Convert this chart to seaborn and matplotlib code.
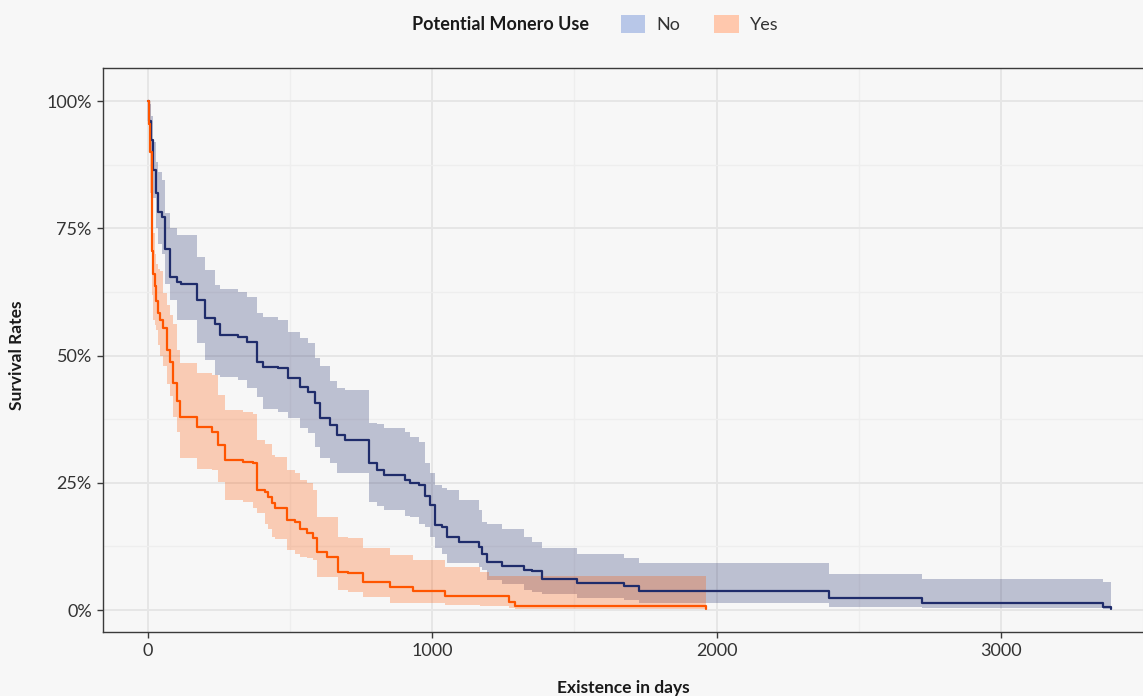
import pandas as pd
import matplotlib
matplotlib.use("Agg")
import matplotlib.pyplot as plt
import matplotlib.patches as mpatches
from matplotlib.ticker import PercentFormatter, MultipleLocator
import seaborn as sns

# Kaplan-Meier estimates (days, survival %, 95% CI bounds)
no_days = [0, 5, 12, 19, 30, 36, 48, 60, 77, 101, 118, 171, 201, 236, 254, 318, 347,
           383, 406, 459, 494, 535, 564, 588, 606, 641, 665, 694, 776, 805, 829, 905,
           922, 952, 975, 993, 1011, 1034, 1052, 1093, 1163, 1175, 1192, 1245, 1321,
           1351, 1386, 1509, 1674, 1727, 2396, 2724, 3358, 3387]
no_surv = [100, 96, 92.3, 86.4, 82, 78.3, 77.3, 71, 65.5, 64.5, 64, 60.9, 57.3, 56.3,
           54, 53.7, 52.7, 48.8, 47.8, 47.5, 45.5, 43.9, 42.9, 40.6, 37.7, 36.3, 34.4,
           33.4, 28.8, 27.5, 26.5, 25.5, 24.9, 24.6, 22.5, 20.6, 16.7, 16.4, 14.3, 13.4,
           12.4, 11.1, 9.5, 8.6, 7.9, 7.7, 6.2, 5.4, 4.7, 3.8, 2.3, 1.4, 0.65, 0.2]
no_upper = [100, 99.5, 97, 92, 88, 86, 84.5, 78, 75, 73.7, 73.7, 69.4, 66.8, 63.9, 63,
            62.5, 61.6, 58.3, 57.6, 57, 54.7, 53.5, 52.4, 49.5, 48, 45, 43.6, 43.2, 36.7,
            36.5, 35.7, 35, 34, 33.1, 28.8, 26.9, 24.6, 24, 23.6, 21.6, 19.6, 17.3, 17,
            16, 14.4, 13.4, 12.1, 11.1, 10.2, 9.2, 7.1, 6.1, 5.6, 5.6]
no_lower = [100, 93, 88, 81, 75, 72, 70, 64, 60.9, 57, 57, 52.4, 49.1, 46.2, 45.8, 45.2,
            43.6, 41.9, 39.6, 39, 37.7, 35.7, 34.7, 32.1, 29.8, 28.8, 26.9, 26.9, 21.3,
            20.5, 19.6, 18.5, 18.3, 17, 16.4, 14.4, 12.1, 11, 9.2, 9.2, 8.5, 7.9, 5.9,
            5.2, 3.9, 3.5, 3.1, 2.3, 2.0, 1.4, 0.65, 0.5, 0.3, 0.3]

yes_days = [0, 3, 6, 13, 15, 19, 25, 30, 36, 42, 54, 66, 77, 89, 101, 113, 171, 224,
            248, 271, 336, 371, 383, 412, 424, 435, 447, 488, 518, 535, 559, 582, 594,
            629, 670, 705, 758, 852, 934, 1046, 1169, 1198, 1269, 1292, 1961]
yes_surv = [100, 95.5, 90, 82.5, 70.5, 66, 63.7, 60.7, 58.4, 56.9, 55.4, 51, 48.7, 44.7,
            41, 38, 36, 35, 32.4, 29.5, 29.1, 28.8, 23.6, 23.2, 22.3, 21, 20, 17.7, 17.3,
            16, 15.1, 14.1, 11.5, 10.5, 7.5, 7.2, 5.6, 4.6, 3.7, 2.75, 2.75, 2.75, 1.6,
            0.8, 0.2]
yes_upper = [100, 99.5, 96, 90, 80, 74, 70, 68, 67, 66.7, 62.2, 60, 58, 56.3, 51.1, 48.5,
             46.5, 46.2, 42.2, 39.3, 39, 38.6, 33.4, 32.7, 32.7, 30.5, 30, 27.5, 26.9,
             25.5, 24.9, 23.6, 18.3, 18.3, 14.4, 14.2, 12.1, 10.8, 9.8, 8.5, 7.5, 6.6,
             6.6, 6.6, 6.6]
yes_lower = [100, 90, 82, 72, 62, 57, 56, 55, 52, 50, 47.9, 44.5, 42, 38, 35, 29.8, 27.8,
             27.5, 25.2, 21.6, 21.3, 20, 19, 17, 16, 14.4, 14, 11.8, 11, 10.5, 10.2, 9.8,
             6.5, 6.5, 3.9, 3.5, 2.6, 1.3, 1.3, 1.0, 0.9, 0.8, 0.5, 0.2, 0.1]

groups = ["No", "Yes"]
line_colors = {"No": "#1f2c6b", "Yes": "#ff5500"}
legend_colors = {"No": "#b8c7e8", "Yes": "#ffc8ad"}

km = pd.concat([
    pd.DataFrame({"days": no_days, "surv": no_surv, "lower": no_lower,
                  "upper": no_upper, "group": "No"}),
    pd.DataFrame({"days": yes_days, "surv": yes_surv, "lower": yes_lower,
                  "upper": yes_upper, "group": "Yes"}),
], ignore_index=True)

sns.set_theme(style="whitegrid")
plt.rcParams["font.family"] = ["Lato", "DejaVu Sans"]

fig = plt.figure(figsize=(11.43, 6.96), dpi=100, facecolor="#f7f7f7")
ax = fig.add_axes([0.0901, 0.092, 0.911, 0.8103])
ax.set_facecolor("#f7f7f7")

# confidence bands first, then the step lines
for g in groups:
    d = km[km["group"] == g]
    ax.fill_between(d["days"], d["lower"], d["upper"], step="post",
                    color=line_colors[g], alpha=0.27, linewidth=0, zorder=2)

sns.lineplot(data=km, x="days", y="surv", hue="group", palette=line_colors,
             drawstyle="steps-post", linewidth=1.6, estimator=None,
             legend=False, ax=ax, zorder=3)

ax.set_xlim(-158, 3504)
ax.set_ylim(-4.3, 106.5)
ax.xaxis.set_major_locator(MultipleLocator(1000))
ax.xaxis.set_minor_locator(MultipleLocator(500))
ax.yaxis.set_major_locator(MultipleLocator(25))
ax.yaxis.set_minor_locator(MultipleLocator(12.5))
ax.yaxis.set_major_formatter(PercentFormatter(100, decimals=0))

ax.grid(which="major", color="#e6e6e6", linewidth=1.4)
ax.grid(which="minor", color="#eeeeee", linewidth=1.0)
ax.set_axisbelow(True)

for s in ax.spines.values():
    s.set_color("#3a3a3a")
    s.set_linewidth(1.0)

ax.tick_params(axis="both", which="major", length=4, width=1, color="#3a3a3a",
               labelsize=13, labelcolor="#333333", pad=4, bottom=True, left=True)
ax.tick_params(which="minor", length=0)

ax.set_xlabel("Existence in days", fontsize=12.5, fontweight="bold", color="#1a1a1a")
ax.set_ylabel("Survival Rates", fontsize=12.5, fontweight="bold", color="#1a1a1a")
ax.xaxis.set_label_coords(0.5, -0.085)
ax.yaxis.set_label_coords(-0.075, 0.49)

# legend along the top
fig.text(412 / 1143, 1 - 24 / 696, "Potential Monero Use", fontsize=13,
         fontweight="bold", color="#1a1a1a", ha="left", va="center")
handles = [mpatches.Patch(facecolor=legend_colors[g], edgecolor="none") for g in groups]
fig.legend(handles, groups, loc="center left", bbox_to_anchor=(621 / 1143, 1 - 24 / 696),
           ncol=2, frameon=False, fontsize=13, handlelength=1.35, handleheight=1.15,
           handletextpad=0.6, columnspacing=1.9, borderaxespad=0, borderpad=0,
           labelcolor="#333333")

fig.savefig("out.png", dpi=100, facecolor=fig.get_facecolor())
